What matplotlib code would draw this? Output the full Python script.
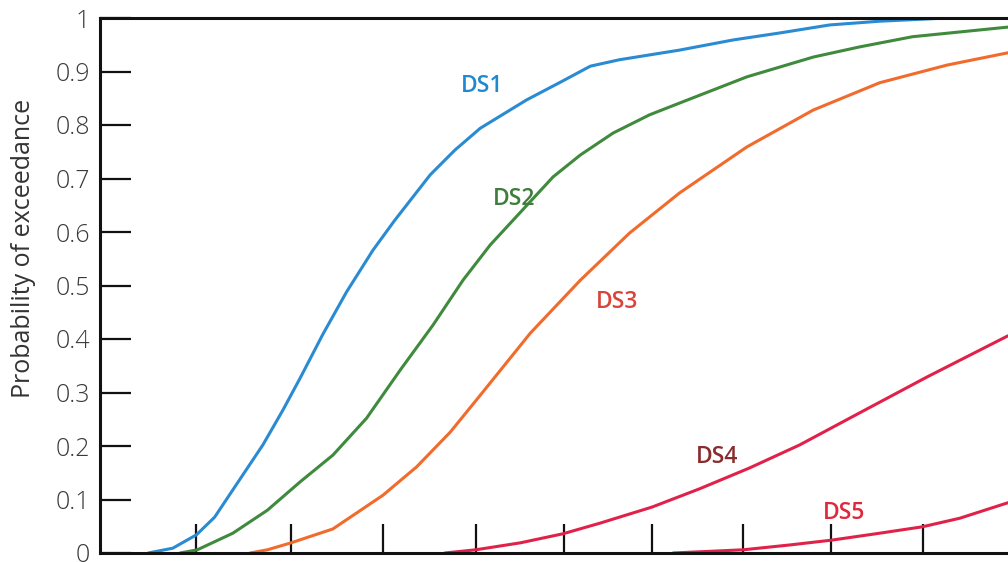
import numpy as np
import matplotlib
matplotlib.use("Agg")
import matplotlib.pyplot as plt

# curves (x in axis units, y = probability of exceedance)
ds1_x = [0.053, 0.080, 0.106, 0.126, 0.146, 0.179, 0.201, 0.220, 0.245, 0.271, 0.300,
         0.324, 0.363, 0.390, 0.418, 0.469, 0.506, 0.539, 0.571, 0.637, 0.696, 0.747,
         0.802, 0.857, 0.931, 0.998]
ds1_y = [0.0, 0.009, 0.034, 0.067, 0.118, 0.202, 0.267, 0.327, 0.409, 0.488, 0.566,
         0.622, 0.707, 0.753, 0.794, 0.847, 0.880, 0.910, 0.922, 0.940, 0.959, 0.972,
         0.987, 0.994, 1.0, 1.0]

ds2_x = [0.088, 0.107, 0.146, 0.184, 0.220, 0.256, 0.293, 0.330, 0.366, 0.399, 0.429,
         0.454, 0.498, 0.528, 0.564, 0.604, 0.637, 0.711, 0.784, 0.835, 0.893, 0.998]
ds2_y = [0.0, 0.006, 0.037, 0.080, 0.133, 0.183, 0.252, 0.342, 0.426, 0.510, 0.576,
         0.622, 0.703, 0.744, 0.785, 0.819, 0.841, 0.890, 0.927, 0.946, 0.965, 0.983]

ds3_x = [0.165, 0.184, 0.210, 0.256, 0.311, 0.348, 0.385, 0.418, 0.473, 0.528, 0.582,
         0.637, 0.711, 0.784, 0.857, 0.931, 0.998]
ds3_y = [0.0, 0.006, 0.019, 0.045, 0.108, 0.161, 0.226, 0.295, 0.411, 0.510, 0.598,
         0.673, 0.759, 0.828, 0.879, 0.912, 0.935]

ds4_x = [0.379, 0.413, 0.462, 0.509, 0.550, 0.607, 0.659, 0.714, 0.769, 0.835, 0.909, 0.998]
ds4_y = [0.0, 0.006, 0.019, 0.036, 0.056, 0.086, 0.120, 0.159, 0.202, 0.262, 0.329, 0.406]

ds5_x = [0.630, 0.707, 0.758, 0.804, 0.857, 0.904, 0.945, 0.998]
ds5_y = [0.0, 0.006, 0.015, 0.024, 0.037, 0.049, 0.065, 0.094]

x_ticks = [0.106, 0.210, 0.311, 0.413, 0.510, 0.607, 0.707, 0.804, 0.905]
y_ticks = [0, 0.1, 0.2, 0.3, 0.4, 0.5, 0.6, 0.7, 0.8, 0.9, 1]
y_labels = ["0", "0.1", "0.2", "0.3", "0.4", "0.5", "0.6", "0.7", "0.8", "0.9", "1"]

curves = [
    ("DS1", ds1_x, ds1_y, "#2a8bd3", "#1f88d0", (0.420, 0.872)),
    ("DS2", ds2_x, ds2_y, "#3f8a3c", "#3e7d3b", (0.455, 0.662)),
    ("DS3", ds3_x, ds3_y, "#f06b2c", "#d8443a", (0.568, 0.470)),
    ("DS4", ds4_x, ds4_y, "#e0224a", "#8a2c2c", (0.678, 0.180)),
    ("DS5", ds5_x, ds5_y, "#e0224a", "#e0283c", (0.818, 0.074)),
]

plt.rcParams['font.family'] = ['Open Sans', 'DejaVu Sans']

fig = plt.figure(figsize=(10.08, 5.62), dpi=100)
ax = fig.add_axes([100 / 1008, 9 / 562, 908 / 1008, 535 / 562])

for name, xs, ys, lc, tc, pos in curves:
    ax.plot(xs, ys, color=lc, lw=2.2, solid_capstyle='round', solid_joinstyle='round')
    ax.text(pos[0], pos[1], name, color=tc, fontsize=16.5, fontweight='semibold',
            ha='center', va='center')

ax.set_xlim(0, 0.998)
ax.set_ylim(0, 1)
ax.set_xticks(x_ticks)
ax.set_xticklabels([])
ax.set_yticks(y_ticks)
ax.set_yticklabels(y_labels, fontweight='light')

ax.tick_params(axis='y', direction='in', length=22, width=1.6, color='#111111',
               labelsize=18, labelcolor='#3a3a3a', pad=7)
ax.tick_params(axis='x', direction='in', length=21, width=1.6, color='#111111')

for side in ['left', 'bottom', 'top']:
    ax.spines[side].set_linewidth(2.2)
    ax.spines[side].set_color('#111111')
ax.spines['right'].set_visible(False)

fig.text(24 / 1008, 1 - 248 / 562, "Probability of exceedance", rotation=90,
         fontsize=18, color='#333333', ha='center', va='center')

fig.savefig("out.png", dpi=100)
